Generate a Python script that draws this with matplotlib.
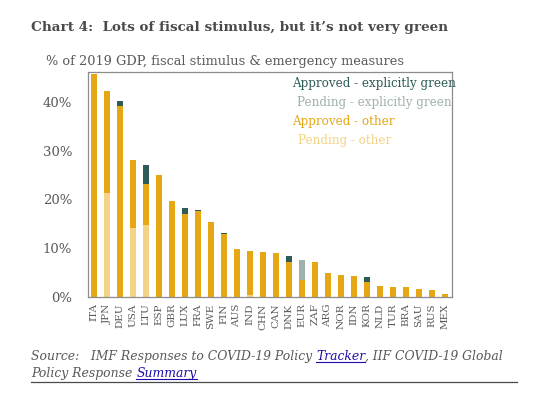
import matplotlib
matplotlib.use("Agg")
import matplotlib.pyplot as plt
import numpy as np

# data, % of 2019 GDP
countries = ["ITA", "JPN", "DEU", "USA", "LTU", "ESP", "GBR", "LUX", "FRA", "SWE",
             "FIN", "AUS", "IND", "CHN", "CAN", "DNK", "EUR", "ZAF", "ARG", "NOR",
             "IDN", "KOR", "NLD", "TUR", "BRA", "SAU", "RUS", "MEX"]
pending_other = [0, 21.2, 0, 14.1, 14.8, 0, 0, 0, 0, 0,
                 0, 0, 0.4, 0, 0, 0, 0, 0, 0, 0,
                 0, 0, 0, 0, 0, 0, 0, 0]
approved_other = [45.8, 21.1, 39.2, 13.9, 8.3, 25.0, 19.6, 16.9, 17.6, 15.3,
                  12.8, 9.8, 9.0, 9.1, 8.9, 7.2, 3.4, 7.2, 4.8, 4.5,
                  4.3, 2.9, 2.1, 2.0, 2.0, 1.6, 1.4, 0.6]
approved_green = [0, 0, 1.1, 0, 3.9, 0, 0, 1.4, 0.3, 0,
                  0.2, 0, 0, 0, 0, 1.2, 0, 0, 0, 0,
                  0, 1.2, 0, 0, 0, 0, 0, 0]
pending_green = [0, 0, 0, 0, 0, 0, 0, 0, 0, 0,
                 0, 0, 0, 0, 0, 0, 4.2, 0, 0, 0,
                 0, 0, 0, 0, 0, 0, 0, 0]
yticks = [0, 10, 20, 30, 40]

c_ag = "#2d5b58"
c_pg = "#9fb1ae"
c_ao = "#e5a714"
c_po = "#f3d486"
grey = "#595959"

plt.rcParams["font.family"] = "DejaVu Serif"

fig = plt.figure(figsize=(5.5, 3.99), dpi=100)
ax = fig.add_axes([87.5/550, 1-296.5/399, 364/550, 224.5/399])

x = np.arange(len(countries))
w = 0.45
b = np.zeros(len(countries))
for vals, col in [(pending_other, c_po), (approved_other, c_ao),
                  (approved_green, c_ag), (pending_green, c_pg)]:
    v = np.array(vals)
    ax.bar(x, v, w, bottom=b, color=col, linewidth=0)
    b = b + v

ax.set_xlim(-0.5, len(countries) - 0.5)
ax.set_ylim(0, 46.2)
ax.set_yticks(yticks)
ax.set_yticklabels([f"{t}%" for t in yticks], fontsize=9.5, color=grey)
ax.set_xticks(x)
ax.set_xticklabels(countries, rotation=90, fontsize=7.5, color=grey)
ax.tick_params(length=0)
ax.tick_params(axis="y", pad=11)
ax.tick_params(axis="x", pad=5)
for s in ax.spines.values():
    s.set_color("#8c8c8c")
    s.set_linewidth(0.9)

# legend as coloured text
leg = [("Approved - explicitly green", c_ag, 292),
       ("Pending - explicitly green", c_pg, 297),
       ("Approved - other", c_ao, 292),
       ("Pending - other", c_po, 298)]
for i, (t, col, px) in enumerate(leg):
    fig.text(px/550, 1-(83 + 19.3*i)/399, t, color=col, fontsize=8.6,
             va="center", ha="left")

fig.text(31/550, 1-28/399, "Chart 4:  Lots of fiscal stimulus, but it\u2019s not very green",
         fontsize=9.7, fontweight="bold", color="#4a4a4a", va="center")
fig.text(46/550, 1-62/399, "% of 2019 GDP, fiscal stimulus & emergency measures",
         fontsize=9.3, color=grey, va="center")

# source line with link-style pieces
fig.canvas.draw()
r = fig.canvas.get_renderer()

def pieces(parts, x0, y0):
    xx = x0
    for txt, link in parts:
        t = fig.text(xx/550, 1-y0/399, txt, fontsize=8.9, style="italic",
                     color="#1a0dab" if link else grey, va="baseline")
        bb = t.get_window_extent(renderer=r)
        if link:
            fig.add_artist(plt.Line2D([bb.x0/550, bb.x1/550],
                                      [1-(y0+2)/399, 1-(y0+2)/399],
                                      color="#1a0dab", lw=0.8))
        xx = bb.x1

pieces([("Source:   IMF Responses to COVID-19 Policy ", False), ("Tracker", True),
        (", IIF COVID-19 Global", False)], 31, 360)
pieces([("Policy Response ", False), ("Summary", True)], 31, 377)
fig.add_artist(plt.Line2D([31/550, 517/550], [1-382/399, 1-382/399],
                          color="#4a4a4a", lw=0.9))

fig.savefig("out.png", dpi=100, facecolor="white")
